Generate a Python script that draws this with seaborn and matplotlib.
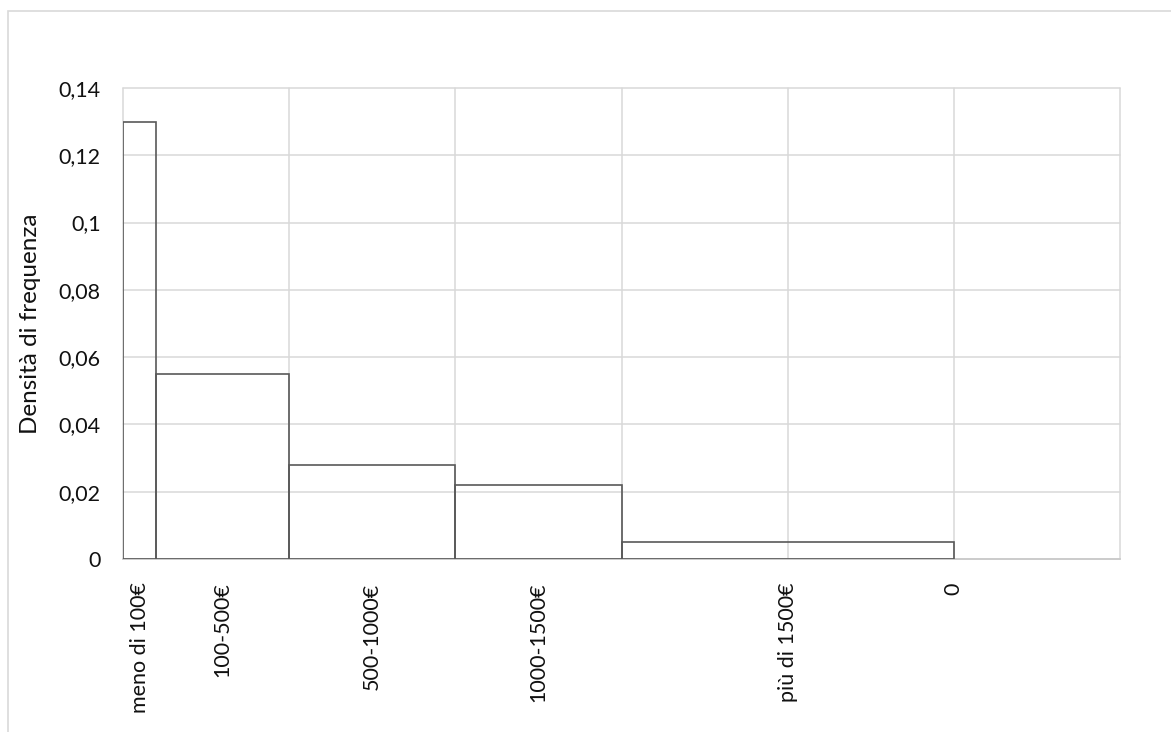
import numpy as np
import pandas as pd
import matplotlib
matplotlib.use("Agg")
import matplotlib.pyplot as plt
from matplotlib.patches import Rectangle
import seaborn as sns

# Income classes (euro), bin edges and frequency densities
class_edges = [0, 100, 500, 1000, 1500, 2500]
densities = [0.13, 0.055, 0.028, 0.022, 0.005]

# Category labels and where they sit on the euro axis
tick_labels = ["meno di 100€", "100-500€", "500-1000€", "1000-1500€", "più di 1500€", "0"]
tick_positions = [50, 300, 750, 1250, 2000, 2500]

y_ticks = [0, 0.02, 0.04, 0.06, 0.08, 0.1, 0.12, 0.14]
y_tick_labels = ["0", "0,02", "0,04", "0,06", "0,08", "0,1", "0,12", "0,14"]

sns.set_style("white")
plt.rcParams["font.family"] = ["Lato", "DejaVu Sans"]

W, H = 1171, 732
fig = plt.figure(figsize=(W / 100, H / 100), dpi=100)
ax = fig.add_axes([123 / W, 1 - 559 / H, (1120 - 123) / W, (559 - 88) / H])

# One weighted observation per class so each bar height equals its density
mids = [(a + b) / 2 for a, b in zip(class_edges[:-1], class_edges[1:])]
df = pd.DataFrame({"importo": mids, "densita": densities})
sns.histplot(data=df, x="importo", weights="densita", bins=class_edges,
             stat="count", fill=False, element="bars",
             color="#595959", linewidth=1.2, ax=ax, zorder=3)

ax.set_xlim(0, 3000)
ax.set_ylim(0, 0.14)

# Gridlines: horizontal every 0.02, vertical every 500
ax.xaxis.remove_overlapping_locs = False
ax.set_yticks(y_ticks)
ax.set_yticklabels(y_tick_labels)
ax.set_xticks(np.arange(0, 3001, 500), minor=True)
ax.set_xticks(tick_positions)
ax.set_xticklabels(tick_labels, rotation=90)
ax.grid(False)
ax.grid(True, which="minor", axis="x", color="#d9d9d9", linewidth=1.1, clip_on=False)
ax.grid(True, which="major", axis="y", color="#d9d9d9", linewidth=1.1, clip_on=False)
ax.set_axisbelow(True)

for side in ["left", "top", "right"]:
    ax.spines[side].set_visible(False)
ax.spines["bottom"].set_color("#c8c8c8")
ax.spines["bottom"].set_linewidth(1.2)

ax.tick_params(axis="both", which="both", length=0, labelsize=15.5, colors="#111111")
ax.tick_params(axis="x", pad=17)
ax.tick_params(axis="y", pad=16)
ax.set_xlabel("")
ax.set_ylabel("")

fig.text(31 / W, 1 - 324 / H, "Densità di frequenza", rotation=90,
         ha="center", va="center", fontsize=17.5, color="#111111")

# Chart area border
fig.patches.append(Rectangle((8 / W, -0.05), 1.1, 1 - 11 / H + 0.05,
                             transform=fig.transFigure, fill=False,
                             edgecolor="#d9d9d9", linewidth=1.2))

fig.savefig("out.png", dpi=100, facecolor="white")
